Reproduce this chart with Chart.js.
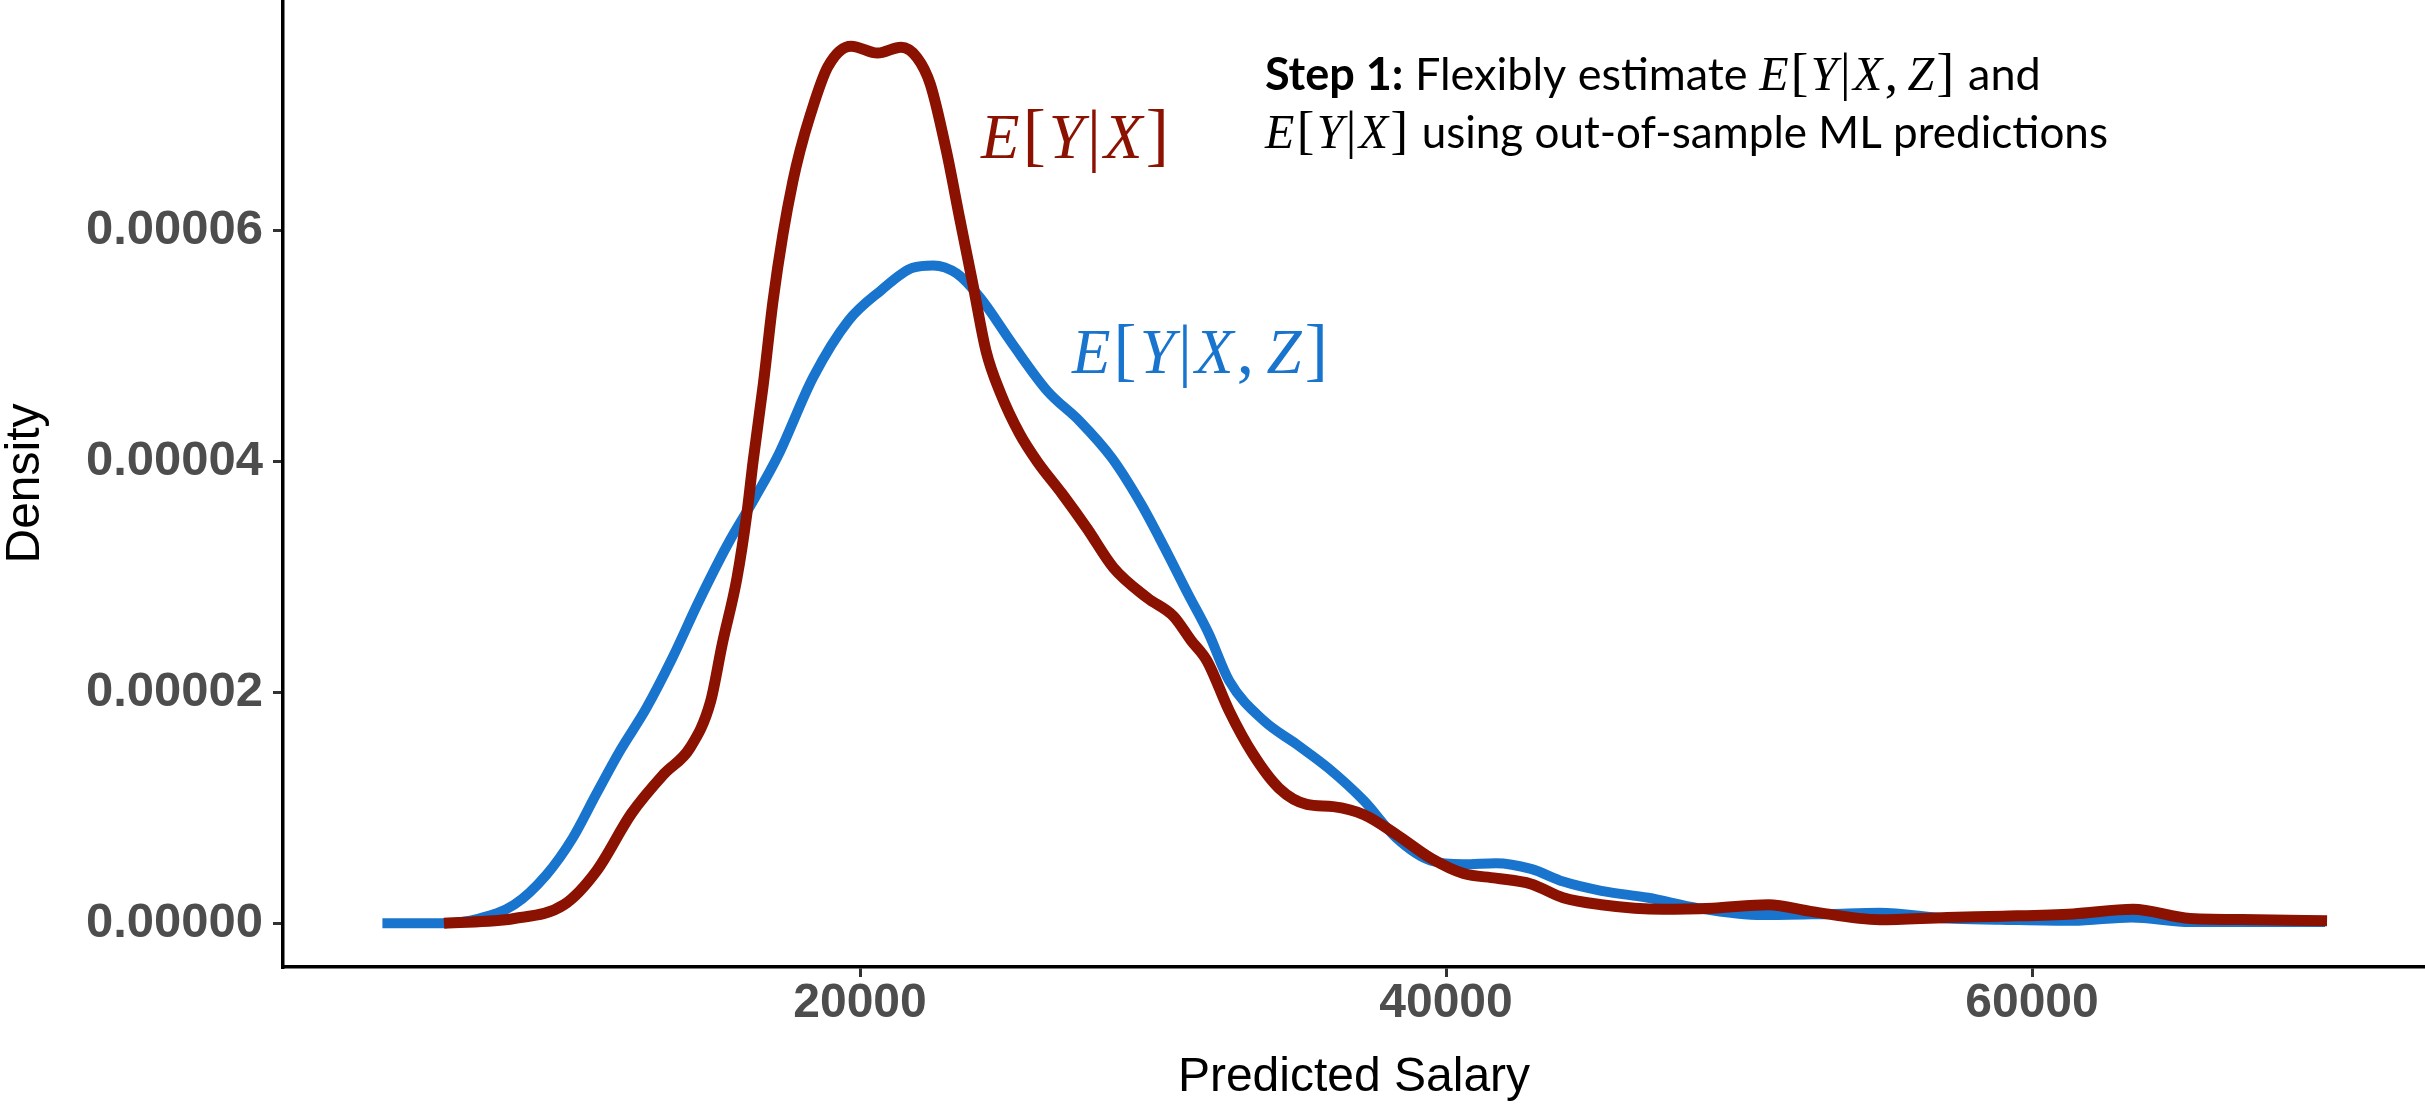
<!DOCTYPE html>
<html lang="en">
<head>
  <meta charset="UTF-8" />
  <title>Predicted Salary – density</title>
  <script src="https://cdn.jsdelivr.net/npm/chart.js@4.4.1/dist/chart.umd.min.js"></script>
  <style>
    html, body {margin: 0; padding: 0; background: #fff;}
    #chart {display: block;}
  </style>
</head>
<body>
  <canvas id="chart" width="2425" height="1105"></canvas>

  <script>
    // E[Y|X,Z] curve (blue): salary / density
    const blueSalary = [3700, 5800, 7000, 8200, 9300, 10200, 11000, 11800, 12700, 13600,
      14500, 15500, 16400, 17200, 18400, 19600, 20700, 21800, 22500, 23300,
      24100, 25200, 26400, 27500, 28600, 29600, 30400, 31200, 31900, 32600,
      33800, 34900, 36000, 37200, 38300, 39500, 40600, 41700, 42900, 44000,
      45300, 46900, 48600, 50800, 53100, 54800, 57100, 58900, 61400, 63400,
      65400, 70000];
    const blueDensity = [0, 0, 4e-7, 1.6e-6, 4.2e-6, 7.4e-6, 1.12e-5, 1.49e-5, 1.86e-5, 2.30e-5,
      2.79e-5, 3.29e-5, 3.68e-5, 4.05e-5, 4.73e-5, 5.22e-5, 5.48e-5, 5.68e-5, 5.70e-5, 5.63e-5,
      5.42e-5, 5.02e-5, 4.61e-5, 4.35e-5, 4.03e-5, 3.63e-5, 3.25e-5, 2.85e-5, 2.51e-5, 2.10e-5,
      1.75e-5, 1.55e-5, 1.34e-5, 1.06e-5, 7.4e-6, 5.4e-6, 5.1e-6, 5.2e-6, 4.7e-6, 3.6e-6,
      2.8e-6, 2.2e-6, 1.3e-6, 7e-7, 8e-7, 9e-7, 4e-7, 3e-7, 2e-7, 5e-7,
      1e-7, 1e-7];

    // E[Y|X] curve (dark red)
    const redSalary = [5800, 8200, 9900, 11000, 12200, 13300, 14200, 14900, 15300, 15800,
      16150, 16350, 16700, 17030, 17370, 17710, 17950, 18300, 18900, 19700,
      20600, 21400, 21950, 22400, 22950, 23400, 23850, 24300, 24800, 25450,
      26050, 26900, 27750, 28650, 29800, 30700, 31300, 31850, 32600, 33400,
      34300, 35250, 36150, 37200, 38300, 39500, 40600, 41700, 42900, 44000,
      45300, 47400, 49100, 51000, 52500, 54800, 57100, 59000, 61400, 63450,
      65400, 67700, 70070];
    const redDensity = [0, 4e-7, 1.6e-6, 4.5e-6, 9.5e-6, 1.29e-5, 1.52e-5, 1.92e-5, 2.42e-5, 2.99e-5,
      3.57e-5, 4.0e-5, 4.67e-5, 5.39e-5, 5.97e-5, 6.43e-5, 6.69e-5, 7.0e-5, 7.42e-5, 7.60e-5,
      7.54e-5, 7.59e-5, 7.50e-5, 7.27e-5, 6.69e-5, 6.11e-5, 5.54e-5, 4.96e-5, 4.59e-5, 4.24e-5,
      4.0e-5, 3.72e-5, 3.42e-5, 3.08e-5, 2.82e-5, 2.66e-5, 2.45e-5, 2.27e-5, 1.84e-5, 1.47e-5,
      1.17e-5, 1.03e-5, 1.01e-5, 9.4e-6, 7.7e-6, 5.6e-6, 4.3e-6, 3.9e-6, 3.4e-6, 2.2e-6,
      1.6e-6, 1.2e-6, 1.3e-6, 1.6e-6, 1.0e-6, 3e-7, 5e-7, 6e-7, 8e-7, 1.2e-6,
      4e-7, 3e-7, 2e-7];

    const xTicks = [20000, 40000, 60000];
    const yTicks = [0, 0.00002, 0.00004, 0.00006];

    const BLUE = "#1874CD";
    const RED = "#8B1100";
    const SANS = "'Liberation Sans', Arial, sans-serif";
    const MATH = "'Liberation Serif', 'Times New Roman', serif";
    const TEXT = "Lato, 'Open Sans', sans-serif";

    /* turn "E[Y|X]" into runs: letters italic, brackets upright */
    function mathRuns(expr, size) {
      return expr.split("").map(ch => {
        const letter = /[A-Z]/.test(ch);
        const s = letter ? size : size * 1.1;
        return {
          t: ch,
          font: (letter ? "italic " : "") + s + "px " + MATH,
          gap: ch === "," ? size * 0.2 : size * 0.05
        };
      });
    }

    function drawRuns(ctx, runs, x, y, color) {
      ctx.save();
      ctx.fillStyle = color;
      ctx.textAlign = "left";
      ctx.textBaseline = "alphabetic";
      runs.forEach(r => {
        ctx.font = r.font;
        ctx.fillText(r.t, x, y);
        x += ctx.measureText(r.t).width + (r.gap || 0);
      });
      ctx.restore();
    }

    // text annotations, anchored in data units
    const notesPlugin = {
      id: "notes",
      afterDraw(chart) {
        const {ctx, scales: {x, y}} = chart;
        drawRuns(ctx, mathRuns("E[Y|X]", 63), x.getPixelForValue(24130), y.getPixelForValue(6.63e-5), RED);
        drawRuns(ctx, mathRuns("E[Y|X,Z]", 63), x.getPixelForValue(27235), y.getPixelForValue(4.77e-5), BLUE);

        const left = x.getPixelForValue(33820);
        const line1 = [{t: "Step 1:", font: "bold 45px " + TEXT},
                       {t: " Flexibly estimate ", font: "45px " + TEXT}]
          .concat(mathRuns("E[Y|X,Z]", 48))
          .concat([{t: " and", font: "45px " + TEXT}]);
        const line2 = mathRuns("E[Y|X]", 48)
          .concat([{t: " using out-of-sample ML predictions", font: "44px " + TEXT}]);
        drawRuns(ctx, line1, left, y.getPixelForValue(7.22e-5), "#000");
        drawRuns(ctx, line2, left, y.getPixelForValue(6.72e-5), "#000");
      }
    };

    const toPoints = (xs, ys) => xs.map((v, i) => ({x: v, y: ys[i]}));

    new Chart(document.getElementById("chart").getContext("2d"), {
      type: "line",
      data: {
        datasets: [
          // higher order is drawn first, so red ends up on top
          {data: toPoints(blueSalary, blueDensity), borderColor: BLUE, borderWidth: 10, order: 2},
          {data: toPoints(redSalary, redDensity), borderColor: RED, borderWidth: 11, order: 1}
        ]
      },
      options: {
        responsive: false,
        animation: false,
        events: [],
        elements: {
          point: {radius: 0},
          line: {cubicInterpolationMode: "monotone", borderCapStyle: "butt", borderJoinStyle: "round", fill: false}
        },
        layout: {padding: 0},
        plugins: {legend: {display: false}, tooltip: {enabled: false}},
        scales: {
          x: {
            type: "linear",
            min: 307,
            max: 73413,
            afterBuildTicks: s => { s.ticks = xTicks.map(v => ({value: v})); },
            afterFit: s => { s.height = 138; s.paddingLeft = 0; s.paddingRight = 0; },
            ticks: {
              callback: v => String(v),
              color: "#4D4D4D",
              font: {family: SANS, size: 48, weight: "bold", lineHeight: 1},
              padding: 3,
              maxRotation: 0
            },
            grid: {drawOnChartArea: false, drawTicks: true, tickLength: 10, color: "#333", lineWidth: 3},
            border: {display: true, color: "#000", width: 3.5},
            title: {
              display: true,
              text: "Predicted Salary",
              color: "#000",
              font: {family: SANS, size: 48, lineHeight: 1},
              padding: {top: 0, bottom: 3}
            }
          },
          y: {
            type: "linear",
            min: -0.0000038,
            max: 0.00008,
            afterBuildTicks: s => { s.ticks = yTicks.map(v => ({value: v})); },
            afterFit: s => { s.width = 283; s.paddingTop = 0; s.paddingBottom = 0; },
            ticks: {
              callback: v => v.toFixed(5),
              color: "#4D4D4D",
              font: {family: SANS, size: 49, weight: "bold", lineHeight: 1},
              padding: 10
            },
            grid: {drawOnChartArea: false, drawTicks: true, tickLength: 10, color: "#333", lineWidth: 3},
            border: {display: true, color: "#000", width: 3.5},
            title: {
              display: true,
              text: "Density",
              color: "#000",
              font: {family: SANS, size: 48, lineHeight: 1},
              padding: {top: 2, bottom: 0}
            }
          }
        }
      },
      plugins: [notesPlugin]
    });
  </script>
</body>
</html>
